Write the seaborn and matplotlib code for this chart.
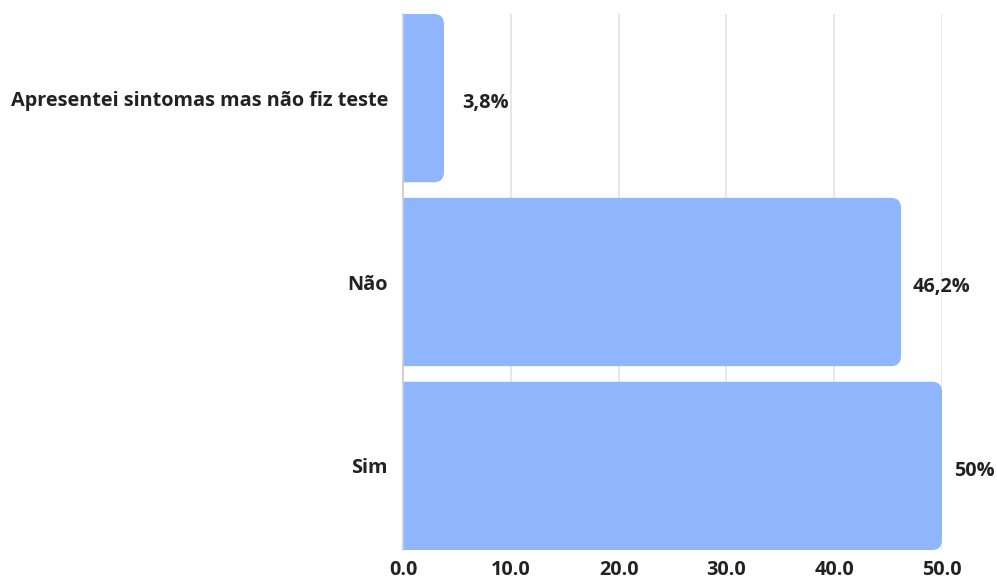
import matplotlib
matplotlib.use("Agg")
import matplotlib.pyplot as plt
from matplotlib.patches import FancyBboxPatch
import seaborn as sns
import pandas as pd

categories = ["Apresentei sintomas mas não fiz teste", "Não", "Sim"]
values = [3.8, 46.2, 50.0]
value_labels = ["3,8%", "46,2%", "50%"]
x_ticks = [0, 10, 20, 30, 40, 50]

df = pd.DataFrame({"categoria": categories, "pct": values})

sns.set_theme(style="white")
plt.rcParams["font.family"] = ["Open Sans", "DejaVu Sans"]

W, H = 997, 584
fig = plt.figure(figsize=(W / 100, H / 100), dpi=100)
left, right, top, bottom = 403, 942, 14, 550
ax = fig.add_axes([left / W, 1 - bottom / H, (right - left) / W, (bottom - top) / H])

bar_color = "#8fb5fd"
bar_h = 0.915
sns.barplot(data=df, x="pct", y="categoria", orient="h", color=bar_color,
            width=bar_h, saturation=1, ax=ax, zorder=2)

ax.set_xlim(0, 50)
ax.set_ylim(len(categories) - 1 + bar_h / 2, -bar_h / 2)

# Swap the plain rectangles for bars with rounded right-hand corners
px_per_x = (right - left) / 50.0
px_per_y = (bottom - top) / (len(categories) - 1 + bar_h)
radius_px = 10
r = radius_px / px_per_x
aspect = px_per_x / px_per_y
for p in list(ax.patches):
    x0, y0 = p.get_x(), p.get_y()
    w, h = p.get_width(), p.get_height()
    p.remove()
    fb = FancyBboxPatch((x0 - r * 2, y0), w + r * 2, h,
                        boxstyle=f"round,pad=0,rounding_size={r}",
                        mutation_aspect=aspect, facecolor=bar_color,
                        edgecolor="none", zorder=2)
    ax.add_patch(fb)

fs = 14.3
for i, (v, lab) in enumerate(zip(values, value_labels)):
    ax.annotate(lab, xy=(v, i), xytext=(12 if v > 10 else 18, -5),
                textcoords="offset pixels",
                ha="left", va="center", fontsize=fs, fontweight="bold",
                color="#222222", annotation_clip=False)

ax.set_xticks(x_ticks)
ax.set_xticklabels([f"{t:.1f}" for t in x_ticks])
ax.grid(axis="x", color="#e3e3e3", linewidth=1.2, zorder=0)
ax.grid(axis="y", visible=False)
ax.set_axisbelow(True)

for s in ["top", "right", "bottom"]:
    ax.spines[s].set_visible(False)
ax.spines["left"].set_color("#cccccc")
ax.spines["left"].set_linewidth(1.2)

ax.tick_params(axis="both", length=0, labelsize=fs, colors="#222222")
ax.tick_params(axis="y", pad=10.8)
ax.tick_params(axis="x", pad=7)
for t in ax.get_xticklabels() + ax.get_yticklabels():
    t.set_fontweight("bold")
ax.set_xlabel("")
ax.set_ylabel("")

fig.savefig("out.png", dpi=100, facecolor="white")
